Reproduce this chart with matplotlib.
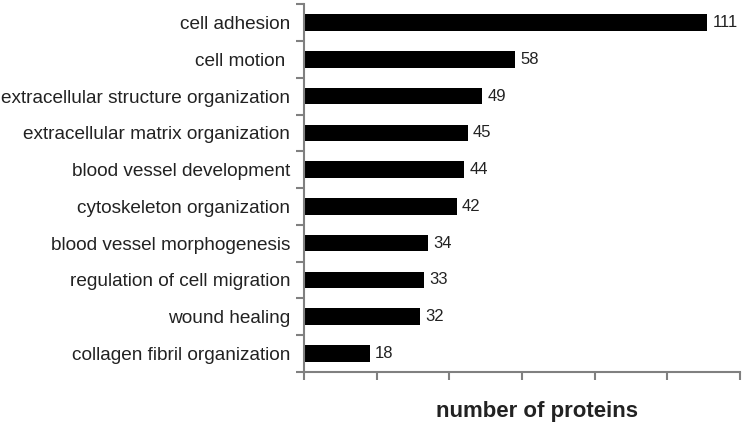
import matplotlib.pyplot as plt
import numpy as np

plt.rcParams['font.family'] = ['Liberation Sans', 'DejaVu Sans']

# GO terms and protein counts (top to bottom)
terms = ['cell adhesion', 'cell motion ', 'extracellular structure organization',
         'extracellular matrix organization', 'blood vessel development',
         'cytoskeleton organization', 'blood vessel morphogenesis',
         'regulation of cell migration', 'wound healing',
         'collagen fibril organization']
counts = [111, 58, 49, 45, 44, 42, 34, 33, 32, 18]

fig = plt.figure(figsize=(7.42, 4.24), dpi=100)
ax = fig.add_axes([0.41, 0.123, 0.587, 0.867])

y = np.arange(len(terms))
bars = ax.barh(y, counts, height=0.45, color='black')
ax.set_ylim(len(terms) - 0.5, -0.5)
ax.set_xlim(0, 120)

for b, v in zip(bars, counts):
    ax.text(b.get_width() + 1.5, b.get_y() + b.get_height() / 2, str(v),
            va='center', ha='left', fontsize=12, color='#222222')

# category labels at bar centres, tick marks at the boundaries
ax.set_yticks(y)
ax.set_yticklabels(terms, fontsize=13.7, color='#222222')
ax.tick_params(axis='y', which='major', length=0, pad=10)
ax.set_yticks(np.arange(len(terms) + 1) - 0.5, minor=True)
ax.tick_params(axis='y', which='minor', length=6, width=1.5, color='#808080')

ax.set_xticks(np.arange(0, 121, 20))
ax.set_xticklabels([])
ax.tick_params(axis='x', length=6, width=1.5, color='#808080')

for s in ['top', 'right']:
    ax.spines[s].set_visible(False)
for s in ['left', 'bottom']:
    ax.spines[s].set_color('#808080')
    ax.spines[s].set_linewidth(1.5)

ax.set_xlabel('number of proteins', fontsize=16, fontweight='bold',
              color='#222222')
ax.xaxis.set_label_coords(0.534, -0.08)

fig.savefig('out.png', dpi=100)
